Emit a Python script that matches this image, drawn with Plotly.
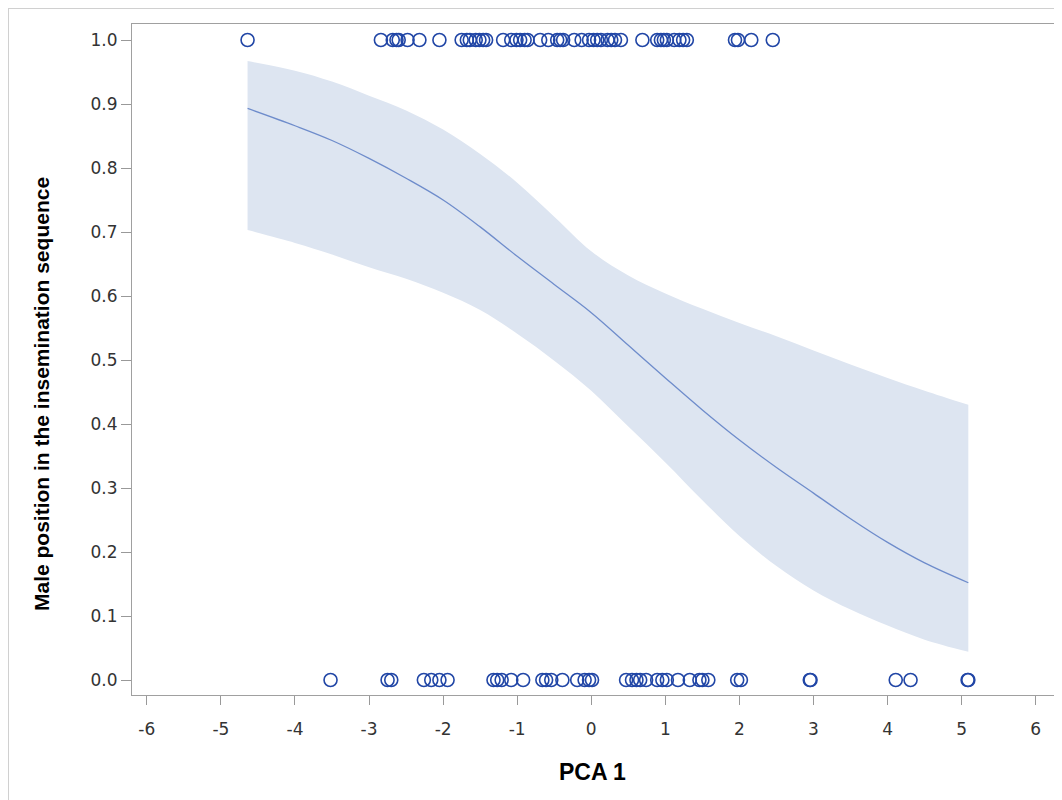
import plotly.graph_objects as go

# Observed data: PCA 1 values for each response group
x_one = [-4.64, -2.84, -2.68, -2.63, -2.60, -2.48, -2.32, -2.05, -1.75, -1.68, -1.64,
         -1.56, -1.51, -1.46, -1.42, -1.19, -1.08, -1.01, -0.96, -0.90, -0.86, -0.69,
         -0.58, -0.46, -0.42, -0.38, -0.23, -0.13, -0.03, 0.03, 0.08, 0.13, 0.22, 0.27,
         0.32, 0.40, 0.69, 0.89, 0.94, 0.98, 1.02, 1.12, 1.19, 1.24, 1.29, 1.94, 1.98,
         2.16, 2.45]
x_zero = [-3.52, -2.75, -2.70, -2.26, -2.16, -2.05, -1.94, -1.32, -1.27, -1.21, -1.08,
          -0.92, -0.66, -0.61, -0.54, -0.39, -0.19, -0.09, -0.03, 0.01, 0.47, 0.55, 0.61,
          0.66, 0.74, 0.89, 0.96, 1.02, 1.17, 1.33, 1.46, 1.50, 1.58, 1.97, 2.02, 2.95,
          2.96, 4.11, 4.31, 5.08, 5.09]

# Fitted curve and confidence band
fit_x = [-4.64, -4.0, -3.5, -3.0, -2.5, -2.0, -1.5, -1.0, -0.5, 0.0, 0.5, 1.0, 1.5,
         2.0, 2.5, 3.0, 3.5, 4.0, 4.5, 5.09]
fit_y = [0.893, 0.866, 0.843, 0.815, 0.784, 0.750, 0.708, 0.662, 0.618, 0.574, 0.523,
         0.472, 0.422, 0.375, 0.332, 0.292, 0.252, 0.215, 0.183, 0.152]
upper = [0.967, 0.952, 0.935, 0.913, 0.890, 0.860, 0.822, 0.777, 0.724, 0.670, 0.632,
         0.604, 0.580, 0.558, 0.537, 0.515, 0.493, 0.472, 0.452, 0.430]
lower = [0.703, 0.683, 0.665, 0.645, 0.627, 0.605, 0.578, 0.541, 0.499, 0.452, 0.396,
         0.340, 0.281, 0.225, 0.178, 0.140, 0.110, 0.085, 0.063, 0.044]

x_ticks = [-6, -5, -4, -3, -2, -1, 0, 1, 2, 3, 4, 5, 6]
y_ticks = [0.0, 0.1, 0.2, 0.3, 0.4, 0.5, 0.6, 0.7, 0.8, 0.9, 1.0]

x_title = "PCA 1"
y_title = "Male position in the insemination sequence"

fig = go.Figure()
fig.add_trace(go.Scatter(x=fit_x, y=lower, mode="lines",
                         line=dict(width=0, shape="spline"),
                         hoverinfo="skip", showlegend=False))
fig.add_trace(go.Scatter(x=fit_x, y=upper, mode="lines", fill="tonexty",
                         fillcolor="#DDE5F1", line=dict(width=0, shape="spline"),
                         hoverinfo="skip", showlegend=False))
fig.add_trace(go.Scatter(x=fit_x, y=fit_y, mode="lines",
                         line=dict(color="#6E8CCB", width=1.3, shape="spline"),
                         showlegend=False))
marker = dict(symbol="circle-open", size=13, color="#2146A6", line=dict(width=1.6))
fig.add_trace(go.Scatter(x=x_one, y=[1.0] * len(x_one), mode="markers", marker=marker,
                         showlegend=False))
fig.add_trace(go.Scatter(x=x_zero, y=[0.0] * len(x_zero), mode="markers", marker=marker,
                         showlegend=False))

# page has an 8px body margin, so figure coords = page coords - 8
W, H = 1054, 792
L, R, T, B = 124, 7, 16, 105
pw, ph = W - L - R, H - T - B


def px(xf):
    return (xf - L) / pw


def py(yf):
    return 1 - (yf - T) / ph


tickfont = dict(family="DejaVu Sans, sans-serif", size=17, color="#333333")

fig.update_layout(
    width=W, height=H,
    margin=dict(l=L, r=R, t=T, b=B),
    paper_bgcolor="white", plot_bgcolor="white",
    font=dict(family="Liberation Sans, Arial, sans-serif", color="#333333"),
    xaxis=dict(range=[-6.2, 6.26], tickvals=x_ticks,
               ticktext=[str(v) for v in x_ticks], ticks="outside", ticklen=9,
               tickcolor="#999999", showgrid=False, zeroline=False,
               showline=True, linecolor="#A0A0A0", mirror=True,
               tickfont=tickfont, ticklabelstandoff=10),
    yaxis=dict(range=[-0.0234, 1.025], tickvals=y_ticks,
               ticktext=["%.1f" % v for v in y_ticks],
               ticks="outside", ticklen=10, tickcolor="#999999", showgrid=False,
               zeroline=False, showline=True, linecolor="#A0A0A0", mirror=True,
               tickfont=tickfont),
    annotations=[
        dict(text="<b>" + x_title + "</b>", xref="paper", yref="paper",
             x=px(584), y=py(764), xanchor="center", yanchor="middle",
             showarrow=False, font=dict(size=23, color="#000000")),
        dict(text="<b>" + y_title + "</b>", xref="paper", yref="paper",
             x=px(34), y=py(386), xanchor="center", yanchor="middle", textangle=-90,
             showarrow=False, font=dict(size=21, color="#000000")),
    ],
    shapes=[
        dict(type="line", xref="paper", yref="paper", x0=px(0.5), x1=px(0.5),
             y0=py(0), y1=py(H), line=dict(color="#D0D0D0", width=1), layer="above"),
        dict(type="line", xref="paper", yref="paper", x0=px(0), x1=px(W),
             y0=py(0.5), y1=py(0.5), line=dict(color="#D0D0D0", width=1), layer="above"),
    ],
)

fig.write_html("out.html")
